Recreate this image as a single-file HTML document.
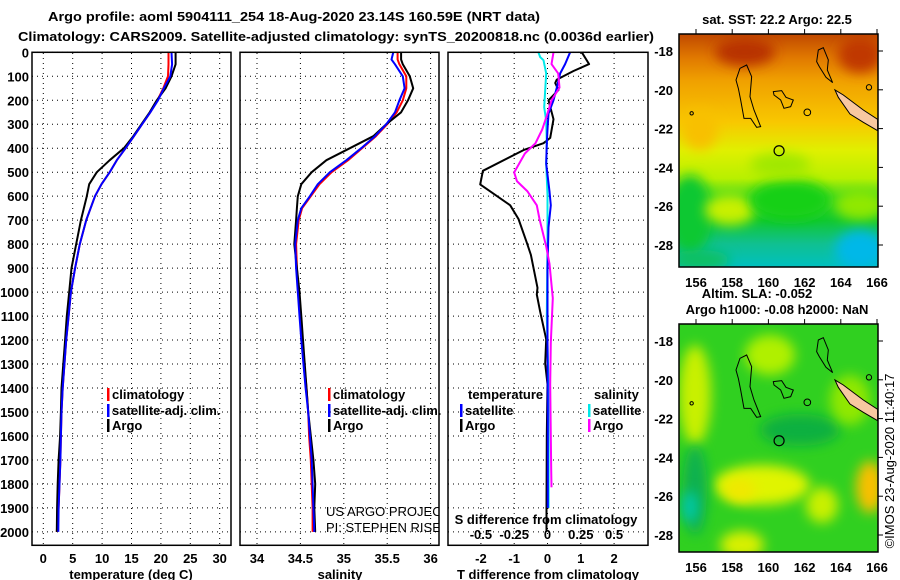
<!DOCTYPE html>
<html><head><meta charset="utf-8"><style>
html,body{margin:0;padding:0;background:#fff;}
svg{display:block;font-family:"Liberation Sans",sans-serif;}
.b{font-weight:bold;font-size:13px;fill:#000;}
</style></head><body>
<svg id="chart" width="900" height="580" viewBox="0 0 900 580" xmlns="http://www.w3.org/2000/svg">
<defs>
<clipPath id="cp2"><rect x="240" y="52" width="199" height="493"/></clipPath>
<clipPath id="cmap1"><rect x="679" y="34" width="199" height="233"/></clipPath>
<clipPath id="cmap2"><rect x="679" y="324" width="199" height="228"/></clipPath>
<filter id="blur" x="-50%" y="-50%" width="200%" height="200%"><feGaussianBlur stdDeviation="6"/></filter>
<linearGradient id="sstg" x1="0" y1="0" x2="0" y2="1">
<stop offset="0" stop-color="#c04800"/><stop offset="0.1" stop-color="#e07800"/>
<stop offset="0.2" stop-color="#f0a000"/><stop offset="0.38" stop-color="#f8c800"/>
<stop offset="0.5" stop-color="#e0f000"/><stop offset="0.62" stop-color="#b8f000"/>
<stop offset="0.7" stop-color="#40d820"/><stop offset="0.8" stop-color="#10c830"/>
<stop offset="0.9" stop-color="#10c090"/><stop offset="1" stop-color="#00c0c0"/>
</linearGradient>
</defs>
<text class="b" x="48" y="21" font-size="14" textLength="492" lengthAdjust="spacingAndGlyphs">Argo profile: aoml 5904111_254 18-Aug-2020 23.14S 160.59E (NRT data)</text>
<text class="b" x="18" y="41" font-size="14" textLength="636" lengthAdjust="spacingAndGlyphs">Climatology: CARS2009. Satellite-adjusted climatology: synTS_20200818.nc (0.0036d earlier)</text>
<g id="axes"></g>
<g id="maps"></g>
</svg>
<script>
// ---- data ----
const depthTicks = [0,100,200,300,400,500,600,700,800,900,1000,1100,1200,1300,1400,1500,1600,1700,1800,1900,2000];
const tempTicks = [0,5,10,15,20,25,30];
const salTicks = [34,34.5,35,35.5,36];
const dTTicks = [-2,-1,0,1,2];
const dSTickLabels = ["-0.5","-0.25","0","0.25","0.5"];
const dSTicks = [-0.5,-0.25,0,0.25,0.5];

const tempDepth = [0,50,100,150,200,250,300,350,400,450,500,550,600,700,800,900,1000,1100,1200,1400,1500,1600,1700,1800,1900,2000];
const tempArgo = [22.5,22.5,21.8,20.8,19.3,18.1,16.7,15.3,13.7,11.3,9.1,7.8,7.4,6.4,5.6,4.8,4.4,4.0,3.7,3.1,3.0,2.85,2.6,2.45,2.35,2.3];
const tempClim = [21.3,21.3,21.2,20.4,19.4,18.2,16.8,15.4,14.0,12.5,11.3,9.9,8.8,7.3,6.2,5.4,4.7,4.3,3.9,3.3,3.1,3.0,2.9,2.75,2.6,2.3];
const tempSat = [21.8,21.9,21.6,20.5,19.5,18.2,16.8,15.4,14.0,12.5,11.3,9.9,8.8,7.3,6.2,5.4,4.7,4.3,3.9,3.3,3.1,3.0,2.9,2.75,2.6,2.55];

const salDepth = [0,30,50,100,150,200,250,300,350,400,450,500,550,600,650,700,800,900,1000,1100,1200,1400,1500,1600,1700,1800,1900,2000];
const salArgo = [35.66,35.66,35.68,35.76,35.80,35.74,35.66,35.49,35.34,35.07,34.80,34.63,34.51,34.47,34.46,34.45,34.43,34.46,34.49,34.51,34.53,34.57,34.59,34.62,34.65,34.67,34.66,34.67];
const salClim = [35.62,35.62,35.64,35.72,35.72,35.68,35.61,35.50,35.37,35.21,35.05,34.86,34.72,34.62,34.52,34.48,34.45,34.46,34.48,34.50,34.52,34.57,34.59,34.60,34.62,34.63,34.64,34.64];
const salSat = [35.57,35.55,35.59,35.68,35.70,35.64,35.59,35.49,35.36,35.20,35.03,34.84,34.70,34.61,34.51,34.47,34.44,34.45,34.47,34.49,34.51,34.56,34.59,34.61,34.63,34.64,34.65,34.66];

const dTArgoDepth = [0,49,78,114,128,157,200,279,357,379,408,494,551,638,695,795,845,982,1010,1082,1197,1298,1384,1600,1900,2000];
const dTArgo = [1.03,1.25,0.78,0.28,0.23,0.33,0.03,0.18,0.08,-0.12,-0.72,-1.94,-2.02,-1.12,-0.87,-0.62,-0.5,-0.3,-0.32,-0.22,-0.04,-0.07,0,-0.02,-0.03,-0.03];
const dTSatDepth = [0,49,88,147,200,256,322,379,465,580,638,730,900,1200,1500,1900];
const dTSat = [0.68,0.53,0.38,0.28,0.18,0.03,0,-0.02,-0.04,0.06,0.1,0.03,0,0,0.01,0.01];
const dSArgoDepth = [0,49,88,147,200,265,322,379,422,501,537,580,638,695,810,882,1025,1211,1384,1742,1814];
const dSArgo = [0.045,0.03,0.08,0.09,0.03,-0.005,-0.04,-0.09,-0.17,-0.25,-0.23,-0.15,-0.08,-0.06,-0.01,0.015,0.04,0.025,0.02,0.028,0.03];
const dSSatDepth = [0,20,33,88,157,229,286,379,465,594,800,1100,1400,1900];
const dSSat = [-0.068,-0.055,-0.03,-0.01,-0.017,-0.025,-0.01,-0.005,-0.01,0,0,-0.005,0.008,0.008];

const latTicks = [-18,-20,-22,-24,-26,-28];
const lonTicks = [156,158,160,162,164,166];
const floatLon = 160.59, floatLat = -23.14;

// ---- helpers ----
const NS = "http://www.w3.org/2000/svg";
const axesG = document.getElementById('axes');
const mapsG = document.getElementById('maps');
function mk(tag, attrs, parent){ const e=document.createElementNS(NS,tag); for(const k in attrs) e.setAttribute(k,attrs[k]); (parent||axesG).appendChild(e); return e; }
const yD = d => 52.3 + d*0.2398;
const xT = t => 43.3 + t*5.88;
const xS = s => 257 + (s-34)*86.8;
const xDT = v => 547.5 + v*33.3;
const xDS = v => 547.5 + v*133.2;

const panels = [{x0:32,x1:231,name:'temperature'},{x0:240,x1:439,name:'salinity'},{x0:448,x1:648,name:'difference'}];

function vgrid(xs){
  xs.forEach(x=>{
    const l=mk('line',{x1:x,x2:x,y1:53,y2:545,stroke:'#000','stroke-width':1,'stroke-dasharray':'1,4'});
    
    
  });
}
panels.forEach(p=>{
  depthTicks.forEach(d=>{
    const l=mk('line',{x1:p.x0,x2:p.x1,y1:yD(d),y2:yD(d),stroke:'#000','stroke-width':1,'stroke-dasharray':'1,4'});
    
    
  });
});
vgrid(tempTicks.map(xT));
vgrid(salTicks.map(xS));
vgrid(dTTicks.map(xDT));

depthTicks.forEach(d=>{
  const t=mk('text',{x:29,y:yD(d)+5,'text-anchor':'end',class:'b'});
  t.textContent=d;
  
  
});
function xlabels(ticks, fx, labels){
  ticks.forEach((v,i)=>{
    const t=mk('text',{x:fx(v),y:563,'text-anchor':'middle',class:'b'});
    t.textContent=labels?labels[i]:v;
    
    
  });
}
xlabels(tempTicks,xT);
xlabels(salTicks,xS);
xlabels(dTTicks,xDT);
[['temperature (deg C)',131],['salinity',340],['T difference from climatology',548]].forEach(a=>{
  const t=mk('text',{x:a[1],y:579,'text-anchor':'middle',class:'b'});
  t.textContent=a[0];
  
  
});

function series(depths, vals, fx, color, name){
  const pts=depths.map((d,i)=>fx(vals[i]).toFixed(1)+','+yD(d).toFixed(1)).join(' ');
  const pl=mk('polyline',{points:pts,fill:'none',stroke:color,'stroke-width':2,'stroke-linejoin':'round'});
  
  
}
series(tempDepth,tempClim,xT,'#ff0000','temp-climatology-line');
series(tempDepth,tempArgo,xT,'#000000','temp-argo-line');
series(tempDepth,tempSat,xT,'#0000ff','temp-satellite-line');
series(salDepth,salClim,xS,'#ff0000','sal-climatology-line');
series(salDepth,salArgo,xS,'#000000','sal-argo-line');
series(salDepth,salSat,xS,'#0000ff','sal-satellite-line');
series(dTArgoDepth,dTArgo,xDT,'#000000','tdiff-argo-line');
series(dSSatDepth,dSSat,xDS,'#00e8e8','sdiff-satellite-line');
series(dTSatDepth,dTSat,xDT,'#0000ff','tdiff-satellite-line');
series(dSArgoDepth,dSArgo,xDS,'#ff00ff','sdiff-argo-line');

panels.forEach(p=>{
  const r=mk('rect',{x:p.x0,y:52.3,width:p.x1-p.x0,height:493,fill:'none',stroke:'#000','stroke-width':1.5});
  
  
});

function legItem(x,y,color,label){
  const m=mk('rect',{x:x,y:y-11,width:2.5,height:13,fill:color});
  
  
  const t=mk('text',{x:x+5,y:y,class:'b'});
  t.textContent=label;
  
  
}
[[107,'temperature'],[328,'salinity']].forEach(a=>{
  legItem(a[0],399,'#ff0000','climatology');
  legItem(a[0],415,'#0000ff','satellite-adj. clim.');
  legItem(a[0],430,'#000000','Argo');
});
[['temperature',468],['salinity',594]].forEach(a=>{
  const t=mk('text',{x:a[1],y:399,class:'b'});
  t.textContent=a[0];
  
  
});
legItem(460,415,'#0000ff','satellite');
legItem(460,430,'#000000','Argo');
legItem(588,415,'#00e8e8','satellite');
legItem(588,430,'#ff00ff','Argo');

(function(){
  const t=mk('text',{x:546,y:524,'text-anchor':'middle',class:'b'});
  t.textContent='S difference from climatology';
  
  
  dSTicks.forEach((v,i)=>{
    const l=mk('text',{x:xDS(v),y:539,'text-anchor':'middle',class:'b'});
    l.textContent=dSTickLabels[i];
    
    
  });
  const c1=mk('text',{x:326,y:516,'font-size':13,fill:'#000','clip-path':'url(#cp2)'});
  c1.textContent='US ARGO PROJECT';
  
  
  const c2=mk('text',{x:326,y:532,'font-size':13,fill:'#000','clip-path':'url(#cp2)'});
  c2.textContent='PI: STEPHEN RISER';
  
  
})();

// ---- maps ----
const mapDefs = [{y0:34,y1:267,lat18:51,off:0,name:'sst-map',clip:'url(#cmap1)'},{y0:324,y1:552,lat18:341,off:290,name:'sla-map',clip:'url(#cmap2)'}];
const xLon = lon => 696 + (lon-156)*18.1;
const yLat = (lat,m) => m.lat18 + (-18-lat)*19.4;

function blob(g,cx,cy,rx,ry,col){ const e=mk('ellipse',{cx:cx,cy:cy,rx:rx,ry:ry,fill:col,filter:'url(#blur)'},g);   }
mapDefs.forEach((m,mi)=>{
  const g=mk('g',{'clip-path':m.clip},mapsG);
  
  
  if(mi===0){
    mk('rect',{x:679,y:34,width:199,height:233,fill:'url(#sstg)'},g);
    blob(g,745,52,30,14,'#b83000');
    blob(g,860,55,22,18,'#c03800');
    blob(g,690,215,22,40,'#10c830');
    blob(g,730,210,25,15,'#c8f000');
    blob(g,790,200,40,20,'#18d018');
    blob(g,860,205,25,15,'#90e800');
    blob(g,860,250,25,20,'#00b8e8');
    blob(g,700,260,30,10,'#10c060');
    blob(g,780,165,30,12,'#a0e800');
    blob(g,700,130,18,20,'#f8c000');
  } else {
    mk('rect',{x:679,y:324,width:199,height:228,fill:'#30d020'},g);
    blob(g,695,395,16,50,'#c8f000');
    blob(g,762,485,48,20,'#e0f400');
    blob(g,740,490,16,12,'#f0e800');
    blob(g,870,487,14,26,'#f8c000');
    blob(g,695,490,12,45,'#10b050');
    blob(g,690,507,8,16,'#00c8a8');
    blob(g,742,545,22,14,'#d8f000');
    blob(g,822,505,16,18,'#c8f000');
    blob(g,770,355,25,20,'#b0f000');
    blob(g,800,430,40,16,'#10b040');
    blob(g,850,400,20,25,'#90e800');
  }
  const cg=mk('g',{transform:'translate(650,'+m.off+') scale(0.3333)',fill:'none',stroke:'#000','stroke-width':3},g);
  
  
  mk('polygon',{points:'258,240 270,205 290,195 305,230 300,290 312,330 332,380 320,382 302,355 282,355 272,300 265,265'},cg);
  mk('polygon',{points:'370,275 395,272 408,292 430,300 422,320 402,325 392,300 372,285'},cg);
  mk('polygon',{points:'505,150 520,143 535,180 532,210 548,248 528,232 508,200 500,185'},cg);
  mk('polygon',{points:'555,270 580,285 640,330 683,358 683,392 640,367 600,342 565,292',fill:'#f8c8a0'},cg);
  mk('circle',{cx:125,cy:340,r:5},cg);
  mk('circle',{cx:657,cy:262,r:8},cg);
  mk('circle',{cx:472,cy:337,r:10},cg);
  const fc=mk('circle',{cx:xLon(floatLon),cy:yLat(floatLat,m),r:5,fill:'none',stroke:'#000','stroke-width':1.2},mapsG);
  
  
  const fr=mk('rect',{x:679,y:m.y0,width:199,height:m.y1-m.y0,fill:'none',stroke:'#000','stroke-width':1.5},mapsG);
  
  
  latTicks.forEach(l=>{
    const t=mk('text',{x:673,y:yLat(l,m)+5,'text-anchor':'end',class:'b'},mapsG);
    t.textContent=l;
    
    
    mk('line',{x1:878,x2:883,y1:yLat(l,m),y2:yLat(l,m),stroke:'#000'},mapsG);
  });
  lonTicks.forEach(l=>{
    const t=mk('text',{x:xLon(l),y:m.y1+20,'text-anchor':'middle',class:'b'},mapsG);
    t.textContent=l;
    
    
    mk('line',{x1:xLon(l),x2:xLon(l),y1:m.y0-5,y2:m.y0,stroke:'#000'},mapsG);
  });
});
[['sat. SST: 22.2 Argo: 22.5',777,24,'sst-map-title'],['Altim. SLA: -0.052',757,298,'sla-map-title'],['Argo h1000: -0.08 h2000: NaN',777,314,'argo-height-title']].forEach(a=>{
  const t=mk('text',{x:a[1],y:a[2],'text-anchor':'middle',class:'b'},mapsG);
  t.textContent=a[0];
  
  
});
const im=mk('text',{x:0,y:0,'text-anchor':'middle','font-size':13,fill:'#000',transform:'translate(894,461) rotate(-90)'},mapsG);
im.textContent='©IMOS 23-Aug-2020 11:40:17';


</script>
</body></html>
